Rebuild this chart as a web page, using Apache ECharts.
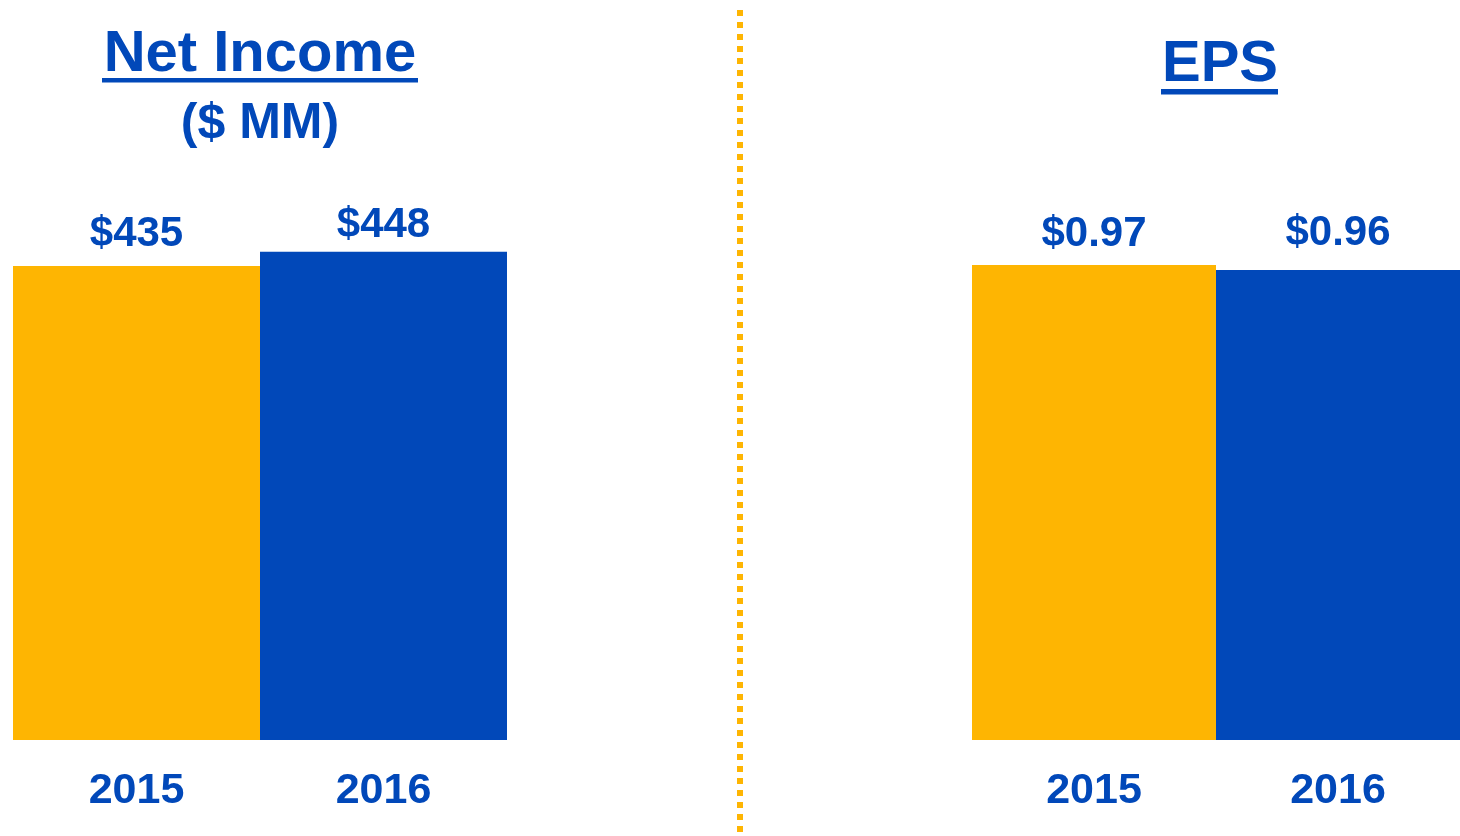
<!DOCTYPE html>
<html>
<head>
<meta charset="utf-8">
<style>
  html, body { margin: 0; padding: 0; background: #fff; }
  #chart { width: 1460px; height: 836px; }
</style>
<script src="https://cdn.jsdelivr.net/npm/echarts@6/dist/echarts.min.js"></script>
</head>
<body>
<div id="chart"></div>
<script>
// 年份
var years = ['2015', '2016'];
// 净利润 ($ MM)
var netIncome = [435, 448];
// 每股收益
var eps = [0.97, 0.96];

var myColor = ['#FEB502', '#0148B9'];
var blue = '#0148B9';
var font = '"Liberation Sans", Arial, sans-serif';
// 数值标签离柱顶的距离（原图并不统一）
var leftGap = [11, 5];
var rightGap = [10, 15];

var myChart = echarts.init(document.getElementById('chart'));

// 柱子公共配置
function barSeries(data, idx, gaps, fmt) {
  return {
    type: 'bar',
    xAxisIndex: idx,
    yAxisIndex: idx,
    data: data.map(function (v, i) {
      return { value: v, label: { distance: gaps[i] } };
    }),
    barWidth: '100%',
    barCategoryGap: '0%',
    itemStyle: {
      color: function (params) {
        return myColor[params.dataIndex];
      }
    },
    label: {
      show: true,
      position: 'top',
      formatter: fmt,
      color: blue,
      fontFamily: font,
      fontWeight: 'bold',
      fontSize: 42
    },
    silent: true
  };
}

function xAx(idx) {
  return {
    type: 'category',
    gridIndex: idx,
    data: years,
    axisTick: { show: false },
    axisLine: { show: false },
    axisLabel: {
      color: blue,
      fontFamily: font,
      fontWeight: 'bold',
      fontSize: 43,
      margin: 30
    }
  };
}

function yAx(idx, max) {
  return {
    type: 'value',
    gridIndex: idx,
    min: 0,
    max: max,
    show: false,
    splitLine: { show: false }
  };
}

var option = {
  animation: false,
  grid: [
    { left: 13, width: 494, top: 195.2, bottom: 96 },
    // 右侧最后一根柱子被画布右边缘截掉一点
    { left: 972, width: 492, top: 250.3, bottom: 96 }
  ],
  xAxis: [xAx(0), xAx(1)],
  yAxis: [yAx(0, 500), yAx(1, 1)],
  series: [
    barSeries(netIncome, 0, leftGap, function (p) { return '$' + p.value; }),
    barSeries(eps, 1, rightGap, function (p) { return '$' + p.value.toFixed(2); })
  ],
  graphic: [
    // 中间虚线
    {
      type: 'line',
      shape: { x1: 740, y1: 10, x2: 740, y2: 836 },
      style: { stroke: '#FEB502', lineWidth: 6, lineDash: [6, 6] }
    },
    // 左侧标题
    {
      type: 'text',
      x: 260, y: 55,
      style: {
        text: 'Net Income', fill: blue, font: 'bold 58px ' + font,
        textAlign: 'center', textVerticalAlign: 'middle'
      }
    },
    {
      type: 'rect',
      shape: { x: 102, y: 78, width: 316, height: 4.5 },
      style: { fill: blue }
    },
    {
      type: 'text',
      x: 260, y: 124,
      style: {
        text: '($ MM)', fill: blue, font: 'bold 50px ' + font,
        textAlign: 'center', textVerticalAlign: 'middle'
      }
    },
    // 右侧标题
    {
      type: 'text',
      x: 1220, y: 65,
      style: {
        text: 'EPS', fill: blue, font: 'bold 58px ' + font,
        textAlign: 'center', textVerticalAlign: 'middle'
      }
    },
    {
      type: 'rect',
      shape: { x: 1161, y: 89, width: 117, height: 5.5 },
      style: { fill: blue }
    }
  ]
};

myChart.setOption(option);
window.addEventListener('resize', function () {
  myChart.resize();
});
</script>
</body>
</html>
